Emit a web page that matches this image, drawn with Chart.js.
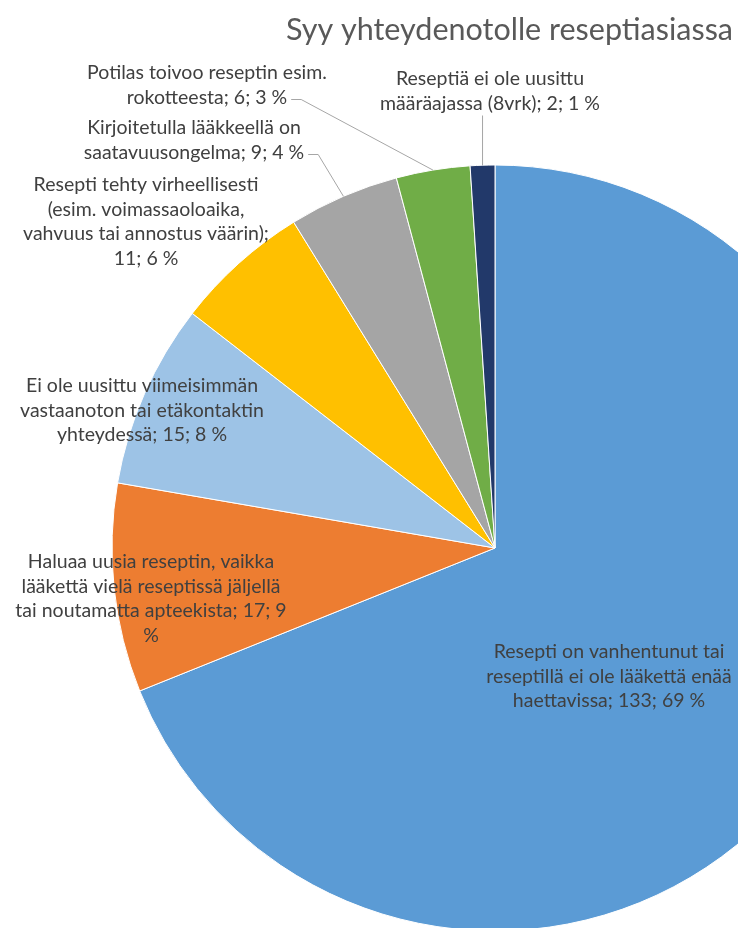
<!DOCTYPE html>
<html>
<head>
<meta charset="utf-8">
<script src="https://cdn.jsdelivr.net/npm/chart.js@4/dist/chart.umd.min.js"></script>
<style>
  html, body { margin: 0; padding: 0; background: #fff; overflow: hidden; }
  #wrap { width: 738px; height: 928px; overflow: hidden; position: relative; }
  canvas { position: absolute; left: 0; top: 0; }
</style>
</head>
<body>
<div id="wrap"><canvas id="myChart" width="1000" height="1000"></canvas></div>
<script>
const title = 'Syy yhteydenotolle reseptiasiassa'
const categories = [
  'Resepti on vanhentunut tai reseptillä ei ole lääkettä enää haettavissa',
  'Haluaa uusia reseptin, vaikka lääkettä vielä reseptissä jäljellä tai noutamatta apteekista',
  'Ei ole uusittu viimeisimmän vastaanoton tai etäkontaktin yhteydessä',
  'Resepti tehty virheellisesti (esim. voimassaoloaika, vahvuus tai annostus väärin)',
  'Kirjoitetulla lääkkeellä on saatavuusongelma',
  'Potilas toivoo reseptin esim. rokotteesta',
  'Reseptiä ei ole uusittu määräajassa (8vrk)'
]
const counts = [133, 17, 15, 11, 9, 6, 2]
const percents = [69, 9, 8, 6, 4, 3, 1]
const colors = ['#5B9BD5', '#ED7D31', '#9DC3E6', '#FFC000', '#A5A5A5', '#70AD47', '#22396A']

// where each data label goes: centre x, first line y, words on each line, leader style
let labelLayout = [
  {x: 609, y: 652, words: [4, 5, 4]},
  {x: 151, y: 562, words: [4, 4, 5, 1]},
  {x: 142, y: 386, words: [4, 3, 4]},
  {x: 146, y: 185, words: [3, 2, 4, 3]},
  {x: 194, y: 128, words: [3, 4], leader: 'side'},
  {x: 207, y: 73, words: [4, 4], leader: 'side'},
  {x: 490, y: 79, words: [4, 5], leader: 'below'}
]
const lineGap = 24.5

function labelLines(i) {
  let words = `${categories[i]}; ${counts[i]}; ${percents[i]} %`.split(' ')
  let lines = []
  let k = 0
  labelLayout[i].words.forEach(n => {
    lines.push(words.slice(k, k + n).join(' '))
    k += n
  })
  return lines
}

const pieLabels = {
  id: 'pieLabels',
  afterDatasetsDraw(chart) {
    let c = chart.ctx
    let arcs = chart.getDatasetMeta(0).data
    c.save()
    c.font = '19.5px Lato'
    c.fillStyle = '#404040'
    c.textAlign = 'center'
    c.textBaseline = 'middle'
    arcs.forEach((arc, i) => {
      let lay = labelLayout[i]
      let lines = labelLines(i)
      lines.forEach((t, j) => c.fillText(t, lay.x, lay.y + j * lineGap))
      if (!lay.leader) return
      let mid = (arc.startAngle + arc.endAngle) / 2
      let ex = arc.x + arc.outerRadius * Math.cos(mid)
      let ey = arc.y + arc.outerRadius * Math.sin(mid)
      let lastY = lay.y + (lines.length - 1) * lineGap
      c.strokeStyle = '#A6A6A6'
      c.lineWidth = 1
      c.beginPath()
      if (lay.leader == 'side') {
        let right = lay.x + c.measureText(lines[lines.length - 1]).width / 2
        c.moveTo(right + 4, lastY + 2)
        c.lineTo(right + 14, lastY + 2)
        c.lineTo(ex, ey)
      } else {
        c.moveTo(ex, lastY + 12)
        c.lineTo(ex, ey)
      }
      c.stroke()
    })
    c.restore()
  }
}

const ctx = document.getElementById('myChart').getContext('2d')
let myChart = new Chart(ctx, {
  type: 'pie',
  data: {
    labels: categories,
    datasets: [{
      data: counts,
      backgroundColor: colors,
      borderColor: '#ffffff',
      borderWidth: 1,
      hoverBorderWidth: 1,
      offset: 0,
      hoverOffset: 0,
      radius: 383,
      clip: false
    }]
  },
  options: {
    responsive: false,
    animation: false,
    events: [],
    // chart area centred on x = 495, its right edge is where the title ends
    layout: {padding: {left: 257, right: 267, top: 0, bottom: 12.6}},
    plugins: {
      legend: {display: false},
      tooltip: {enabled: false},
      title: {
        display: true,
        text: title,
        align: 'end',
        color: '#595959',
        font: {family: 'Lato', size: 30.5, weight: 'normal', lineHeight: 1.2},
        padding: {top: 12, bottom: 60}
      }
    }
  },
  plugins: [pieLabels]
})
</script>
</body>
</html>
